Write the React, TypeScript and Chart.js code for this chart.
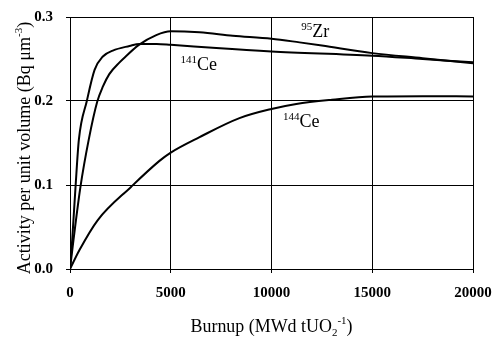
import React, { useEffect, useRef } from "react";
import { Chart, registerables } from "chart.js";

Chart.register(...registerables);

const X_TICKS = [0, 5000, 10000, 15000, 20000];
const Y_TICKS = [0, 0.1, 0.2, 0.3];

const ZR_BURNUP = [0, 175, 520, 930, 1350, 1630, 1950, 2460, 2790, 3400, 4280, 5000, 6430, 8080, 10000, 11390, 12500, 15000, 17500, 20000];
const ZR_ACT = [0, 0.035, 0.098, 0.154, 0.199, 0.217, 0.232, 0.246, 0.2535, 0.2665, 0.2785, 0.283, 0.2817, 0.2777, 0.2742, 0.2698, 0.266, 0.257, 0.251, 0.245];

const CE141_BURNUP = [0, 110, 275, 440, 835, 1220, 1630, 2125, 2950, 3450, 4300, 5000, 7260, 10000, 15000, 17500, 20000];
const CE141_ACT = [0, 0.035, 0.098, 0.154, 0.2, 0.237, 0.253, 0.26, 0.2655, 0.268, 0.268, 0.267, 0.263, 0.259, 0.254, 0.25, 0.246];

const CE144_BURNUP = [0, 470, 1370, 3040, 4440, 5000, 6430, 8410, 10000, 11230, 13000, 15000, 17500, 20000];
const CE144_ACT = [0, 0.0226, 0.058, 0.098, 0.1287, 0.1386, 0.157, 0.1796, 0.1905, 0.1965, 0.2015, 0.2054, 0.2058, 0.2054];

// label anchors in data units (start x, baseline y)
const LABELS = [
  { sup: "95", main: "Zr", x: 11480, y: 0.276 },
  { sup: "141", main: "Ce", x: 5487, y: 0.237 },
  { sup: "144", main: "Ce", x: 10566, y: 0.169 },
];

const FAMILY = '"Liberation Serif", "Times New Roman", serif';

type Seg = { t: string; size: number; dy: number };

function segWidth(ctx: CanvasRenderingContext2D, segs: Seg[]) {
  let w = 0;
  for (const s of segs) {
    ctx.font = `${s.size}px ${FAMILY}`;
    w += ctx.measureText(s.t).width;
  }
  return w;
}

function drawSegs(ctx: CanvasRenderingContext2D, x: number, y: number, segs: Seg[]) {
  let cx = x;
  ctx.textBaseline = "alphabetic";
  ctx.textAlign = "left";
  for (const s of segs) {
    ctx.font = `${s.size}px ${FAMILY}`;
    ctx.fillText(s.t, cx, y + s.dy);
    cx += ctx.measureText(s.t).width;
  }
}

const textPlugin = {
  id: "richText",
  afterDraw(chart: any) {
    const ctx: CanvasRenderingContext2D = chart.ctx;
    const xs = chart.scales.x;
    const ys = chart.scales.y;
    ctx.save();
    ctx.fillStyle = "#000";

    for (const l of LABELS) {
      const px = xs.getPixelForValue(l.x);
      const py = ys.getPixelForValue(l.y);
      drawSegs(ctx, px, py, [
        { t: l.sup, size: 11, dy: -7 },
        { t: l.main, size: 18, dy: 0 },
      ]);
    }

    const xSegs: Seg[] = [
      { t: "Burnup (MWd tUO", size: 18, dy: 0 },
      { t: "2", size: 11, dy: 4 },
      { t: "-1", size: 11, dy: -8 },
      { t: ")", size: 18, dy: 0 },
    ];
    const xw = segWidth(ctx, xSegs);
    const sx = Math.min(1, 162 / xw);
    const cxm = (chart.chartArea.left + chart.chartArea.right) / 2;
    ctx.save();
    ctx.translate(cxm, 331.5);
    ctx.scale(sx, 1);
    drawSegs(ctx, -xw / 2, 0, xSegs);
    ctx.restore();

    const ySegs: Seg[] = [
      { t: "Activity per unit volume (Bq \u03bcm", size: 18, dy: 0 },
      { t: "-3", size: 11, dy: -8 },
      { t: ")", size: 18, dy: 0 },
    ];
    const yw = segWidth(ctx, ySegs);
    const ysx = Math.min(1, 267 / yw);
    ctx.save();
    ctx.translate(30, 148);
    ctx.rotate(-Math.PI / 2);
    ctx.scale(ysx, 1);
    drawSegs(ctx, -yw / 2, 0, ySegs);
    ctx.restore();

    ctx.restore();
  },
};

function pts(xs: number[], ys: number[]) {
  return xs.map((x, i) => ({ x, y: ys[i] }));
}

export default function App() {
  const ref = useRef<HTMLCanvasElement | null>(null);
  useEffect(() => {
    if (!ref.current) return;
    const line = (data: { x: number; y: number }[], label: string) => ({
      label,
      data,
      borderColor: "#000",
      borderWidth: 2,
      pointRadius: 0,
      fill: false,
      cubicInterpolationMode: "monotone" as const,
    });
    const chart = new Chart(ref.current, {
      type: "line",
      data: {
        datasets: [
          line(pts(ZR_BURNUP, ZR_ACT), "95Zr"),
          line(pts(CE141_BURNUP, CE141_ACT), "141Ce"),
          line(pts(CE144_BURNUP, CE144_ACT), "144Ce"),
        ],
      },
      options: {
        responsive: false,
        animation: false,
        devicePixelRatio: 1,
        layout: { padding: { top: 17, right: 20, left: 0, bottom: 0 } },
        plugins: { legend: { display: false }, tooltip: { enabled: false } },
        scales: {
          x: {
            type: "linear",
            min: 0,
            max: 20000,
            afterBuildTicks: (s: any) => {
              s.ticks = X_TICKS.map((v) => ({ value: v }));
            },
            afterFit: (s: any) => {
              s.height = 68;
              s.paddingLeft = 0;
              s.paddingRight = 0;
            },
            ticks: {
              color: "#000",
              font: { family: FAMILY, size: 15, weight: "bold" },
              padding: 11,
              maxRotation: 0,
              callback: (v: any) => String(v),
            },
            grid: { color: "#000", lineWidth: 1, tickLength: 4 },
            border: { color: "#000", width: 1 },
          },
          y: {
            type: "linear",
            min: 0,
            max: 0.3,
            afterBuildTicks: (s: any) => {
              s.ticks = Y_TICKS.map((v) => ({ value: v }));
            },
            afterFit: (s: any) => {
              s.width = 70;
              s.paddingTop = 0;
              s.paddingBottom = 0;
            },
            ticks: {
              color: "#000",
              font: { family: FAMILY, size: 15, weight: "bold" },
              padding: 13,
              callback: (v: any) => Number(v).toFixed(1),
            },
            grid: { color: "#000", lineWidth: 1, tickLength: 4 },
            border: { color: "#000", width: 1 },
          },
        },
      },
      plugins: [textPlugin],
    });
    return () => chart.destroy();
  }, []);
  return (
    <div style={{ position: "absolute", left: 0, top: 0, width: 493, height: 337, background: "#fff" }}>
      <canvas ref={ref} width={493} height={337} />
    </div>
  );
}
